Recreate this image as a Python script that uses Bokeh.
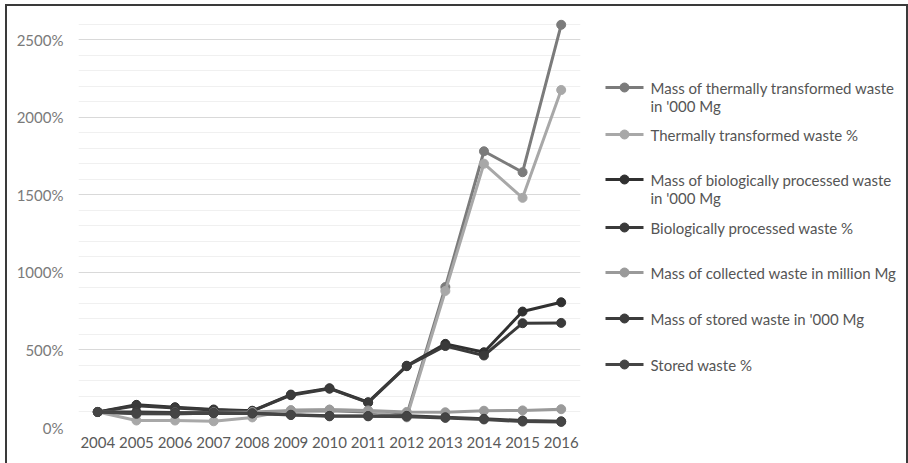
from bokeh.plotting import figure
from bokeh.layouts import row
from bokeh.models import FactorRange, Range1d, FixedTicker, PrintfTickFormatter
from bokeh.core.properties import value
from bokeh.embed import file_html
from bokeh.resources import INLINE

# ---- data (index, 2004 = 100%) ----
years = ["2004", "2005", "2006", "2007", "2008", "2009", "2010",
         "2011", "2012", "2013", "2014", "2015", "2016"]

thermal_mass = [100, 90, 88, 92, 95, 105, 108, 100, 80, 905, 1780, 1645, 2595]
thermal_pct = [100, 45, 45, 40, 65, 112, 115, 108, 65, 880, 1700, 1480, 2175]
bio_mass = [100, 146, 131, 116, 108, 212, 253, 163, 398, 539, 485, 747, 807]
bio_pct = [100, 140, 125, 112, 105, 208, 250, 160, 395, 525, 464, 672, 674]
collected_mass = [100, 96, 97, 98, 100, 110, 115, 110, 100, 98, 108, 110, 118]
stored_mass = [100, 100, 97, 95, 92, 82, 75, 74, 75, 66, 56, 45, 40]
stored_pct = [100, 88, 88, 92, 90, 80, 72, 72, 70, 62, 52, 38, 36]

series_names = [
    ["Mass of thermally transformed waste", "in '000 Mg"],
    ["Thermally transformed waste %"],
    ["Mass of biologically processed waste", "in '000 Mg"],
    ["Biologically processed waste %"],
    ["Mass of collected waste in million Mg"],
    ["Mass of stored waste in '000 Mg"],
    [" Stored waste %"],
]
series_values = [thermal_mass, thermal_pct, bio_mass, bio_pct,
                 collected_mass, stored_mass, stored_pct]
series_colors = ["#7b7b7b", "#a8a8a8", "#303030", "#3a3a3a",
                 "#9a9a9a", "#3c3c3c", "#454545"]

y_major = [0, 500, 1000, 1500, 2000, 2500]
y_minor = list(range(0, 2701, 100))

FONT = "Lato"

# ---- main chart ----
p = figure(width=588, height=457, x_range=FactorRange(*years, range_padding=0),
           y_range=Range1d(0, 2700), output_backend="svg", toolbar_location=None,
           min_border_left=71, min_border_right=15, min_border_top=2,
           min_border_bottom=36)
p.outline_line_color = None
p.background_fill_color = "white"
p.border_fill_color = "white"

p.xgrid.grid_line_color = None
p.yaxis.ticker = FixedTicker(ticks=y_major, minor_ticks=y_minor)
p.yaxis.formatter = PrintfTickFormatter(format="%d%%")
p.ygrid.grid_line_color = "#d9d9d9"
p.ygrid.grid_line_width = 1
p.ygrid.minor_grid_line_color = "#f0f0f0"
p.ygrid.minor_grid_line_width = 1

for ax in (p.xaxis, p.yaxis):
    ax.axis_line_color = None
    ax.major_tick_line_color = None
    ax.minor_tick_line_color = None
    ax.major_label_text_font = FONT

p.yaxis.major_label_text_font_size = "15px"
p.yaxis.major_label_text_color = "#7a7a7a"
p.yaxis.major_label_standoff = 9
p.xaxis.major_label_text_font_size = "15px"
p.xaxis.major_label_text_color = "#5a5a5a"
p.xaxis.major_label_standoff = 3

for vals, col in zip(series_values, series_colors):
    p.line(years, vals, line_color=col, line_width=3)
    p.scatter(years, vals, size=9, fill_color=col, line_color=col)

# ---- legend panel (ranges in page pixels of the aligned frame) ----
leg = figure(width=311, height=457, x_range=Range1d(595, 906), y_range=Range1d(427, 8),
             output_backend="svg", toolbar_location=None,
             min_border=0, min_border_left=0, min_border_right=0,
             min_border_top=2, min_border_bottom=36)
leg.axis.visible = False
leg.grid.visible = False
leg.outline_line_color = None
leg.background_fill_color = "white"
leg.border_fill_color = "white"

entry_y = [87, 134, 179, 227, 272, 318, 364]
line_gap = 18
for names, col, yy in zip(series_names, series_colors, entry_y):
    leg.line([605, 643], [yy, yy], line_color=col, line_width=3)
    leg.scatter([624], [yy], size=9, fill_color=col, line_color=col)
    leg.text(x=[650] * len(names), y=[yy + i * line_gap for i in range(len(names))],
             text=names, text_font=value(FONT), text_font_size="15px",
             text_color="#555555", text_baseline="middle", text_align="left")

layout = row(p, leg, styles={"border-top": "2px solid #3a3a3a",
                             "border-left": "2px solid #3a3a3a",
                             "border-right": "2px solid #3a3a3a",
                             "margin-top": "4px", "margin-left": "5px"})

with open("out.html", "w") as f:
    f.write(file_html(layout, INLINE))
